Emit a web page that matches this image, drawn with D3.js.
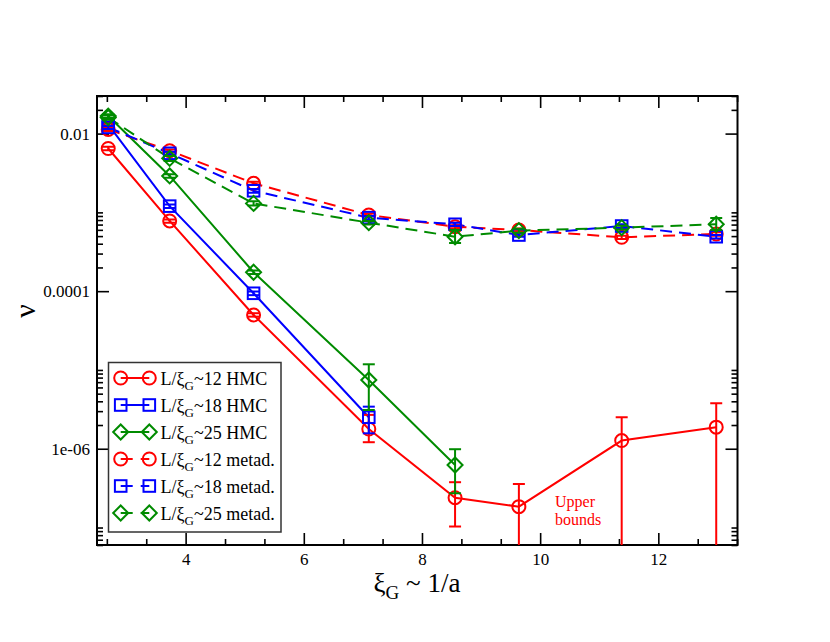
<!DOCTYPE html>
<html><head><meta charset="utf-8">
<script src="https://cdn.jsdelivr.net/npm/d3@7"></script>
<style>
body{margin:0;background:#fff;}
text{font-family:"Liberation Serif","Times New Roman",serif;}
</style>
</head><body>
<svg id="c" width="830" height="642"></svg>
<script>
// ---- data ----
const xiG = [2.69, 3.73, 5.15, 7.10, 8.56, 9.64, 11.38, 12.98];

const hmc12   = [6.47e-3, 7.78e-4, 4.99e-5, 1.78e-6, 2.39e-7, 1.84e-7, 1.27e-6, 1.88e-6];
const hmc12Lo = [6.15e-3, 7.4e-4, 4.75e-5, 1.21e-6, 1.03e-7, 0, 0, 0];
const hmc12Hi = [6.8e-3, 8.15e-4, 5.25e-5, 2.69e-6, 3.76e-7, 3.57e-7, 2.51e-6, 3.78e-6];

const hmc18   = [1.3e-2, 1.2e-3, 9.4e-5, 2.51e-6];
const hmc18Lo = [1.24e-2, 1.14e-3, 8.9e-5, 1.57e-6];
const hmc18Hi = [1.36e-2, 1.26e-3, 9.9e-5, 3.42e-6];

const hmc25   = [1.67e-2, 2.9e-3, 1.74e-4, 7.46e-6, 6.22e-7];
const hmc25Lo = [1.58e-2, 2.75e-3, 1.65e-4, 3.1e-6, 2.72e-7];
const hmc25Hi = [1.76e-2, 3.05e-3, 1.83e-4, 1.18e-5, 9.86e-7];

const met12   = [1.13e-2, 6.06e-3, 2.34e-3, 9.27e-4, 6.58e-4, 5.97e-4, 4.83e-4, 5.32e-4];
const met12Lo = [1.08e-2, 5.8e-3, 2.24e-3, 8.9e-4, 6.3e-4, 5.7e-4, 4.6e-4, 5.05e-4];
const met12Hi = [1.18e-2, 6.3e-3, 2.44e-3, 9.65e-4, 6.85e-4, 6.25e-4, 5.05e-4, 5.6e-4];

const met18   = [1.2e-2, 5.62e-3, 1.88e-3, 8.57e-4, 7.06e-4, 5.16e-4, 6.71e-4, 4.91e-4];
const met18Lo = [1.14e-2, 5.35e-3, 1.78e-3, 8.15e-4, 6.7e-4, 4.9e-4, 6.35e-4, 4.65e-4];
const met18Hi = [1.26e-2, 5.9e-3, 1.98e-3, 9.0e-4, 7.4e-4, 5.4e-4, 7.05e-4, 5.15e-4];

const met25   = [1.6e-2, 4.85e-3, 1.3e-3, 7.4e-4, 4.91e-4, 5.86e-4, 6.4e-4, 7.06e-4];
const met25Lo = [1.5e-2, 4.5e-3, 1.22e-3, 7.0e-4, 4.09e-4, 5.5e-4, 6.05e-4, 5.97e-4];
const met25Hi = [1.7e-2, 5.2e-3, 1.38e-3, 7.8e-4, 5.97e-4, 6.2e-4, 6.75e-4, 8.49e-4];

const legendLabels = ["~12 HMC", "~18 HMC", "~25 HMC", "~12 metad.", "~18 metad.", "~25 metad."];
const xTickValues = [4, 6, 8, 10, 12];
const yTickValues = [1e-2, 1e-4, 1e-6];
const yTickLabels = ["0.01", "0.0001", "1e-06"];

// ---- setup ----
const RED = "#ff0000", BLUE = "#0000ff", GREEN = "#008b00";
const svg = d3.select("#c");
const L = 97, R = 737.5, T = 96, B = 545;
const x = d3.scaleLinear().domain([2.5, 13.34]).range([L, R]);
const y = d3.scaleLog().domain([6e-8, 0.03]).range([B, T]);

svg.append("defs").append("clipPath").attr("id", "clip")
  .append("rect").attr("x", L).attr("y", T).attr("width", R - L).attr("height", B - T);

// minor tick positions
const xMinor = d3.range(8/3, 13.34, 2/3).filter(v => Math.abs(v/2 - Math.round(v/2)) > 0.01);
const yMinor = [];
[1e-8, 1e-6, 1e-4, 1e-2].forEach(m => { for (let k = 2; k <= 10; k++) { const v = m * k; if (v >= 6e-8 && v <= 0.0301) yMinor.push(v); } });

function styleAxis(g) {
  g.select(".domain").remove();
  g.selectAll("line").attr("stroke", "#000").attr("stroke-width", 1.6);
  g.selectAll("text").attr("fill", "#000").style("font-size", "17px")
   .style("font-family", '"Liberation Serif","Times New Roman",serif');
}

// axes (ticks inward)
svg.append("g").attr("transform", `translate(0,${B})`)
  .call(d3.axisBottom(x).tickValues(xTickValues).tickSize(-12).tickPadding(8).tickFormat(d3.format("d"))).call(styleAxis);
svg.append("g").attr("transform", `translate(0,${B})`)
  .call(d3.axisBottom(x).tickValues(xMinor).tickSize(-6).tickFormat("")).call(styleAxis);
svg.append("g").attr("transform", `translate(0,${T})`)
  .call(d3.axisTop(x).tickValues(xTickValues).tickSize(-12).tickFormat("")).call(styleAxis);
svg.append("g").attr("transform", `translate(0,${T})`)
  .call(d3.axisTop(x).tickValues(xMinor).tickSize(-6).tickFormat("")).call(styleAxis);

svg.append("g").attr("transform", `translate(${L},0)`)
  .call(d3.axisLeft(y).tickValues(yTickValues).tickSize(-12).tickPadding(7).tickFormat((d, i) => yTickLabels[i])).call(styleAxis);
svg.append("g").attr("transform", `translate(${L},0)`)
  .call(d3.axisLeft(y).tickValues(yMinor).tickSize(-6).tickFormat("")).call(styleAxis);
svg.append("g").attr("transform", `translate(${R},0)`)
  .call(d3.axisRight(y).tickValues(yTickValues).tickSize(-12).tickFormat("")).call(styleAxis);
svg.append("g").attr("transform", `translate(${R},0)`)
  .call(d3.axisRight(y).tickValues(yMinor).tickSize(-6).tickFormat("")).call(styleAxis);

// frame
svg.append("rect").attr("x", L).attr("y", T).attr("width", R - L).attr("height", B - T)
  .attr("fill", "none").attr("stroke", "#000").attr("stroke-width", 2);

// ---- series ----
const series = [
  {v: hmc12, lo: hmc12Lo, hi: hmc12Hi, c: RED, s: "circle", dash: null},
  {v: hmc18, lo: hmc18Lo, hi: hmc18Hi, c: BLUE, s: "square", dash: null},
  {v: hmc25, lo: hmc25Lo, hi: hmc25Hi, c: GREEN, s: "diamond", dash: null},
  {v: met12, lo: met12Lo, hi: met12Hi, c: RED, s: "circle", dash: "12,7"},
  {v: met18, lo: met18Lo, hi: met18Hi, c: BLUE, s: "square", dash: "12,7"},
  {v: met25, lo: met25Lo, hi: met25Hi, c: GREEN, s: "diamond", dash: "12,7"},
];

function drawSymbol(g, shape, cx, cy, color) {
  if (shape === "circle") {
    g.append("circle").attr("cx", cx).attr("cy", cy).attr("r", 6.5)
      .attr("fill", "none").attr("stroke", color).attr("stroke-width", 2);
  } else if (shape === "square") {
    g.append("rect").attr("x", cx - 5.8).attr("y", cy - 5.8).attr("width", 11.6).attr("height", 11.6)
      .attr("fill", "none").attr("stroke", color).attr("stroke-width", 2);
  } else {
    const d = 7.5;
    g.append("path").attr("d", `M${cx - d},${cy}L${cx},${cy - d}L${cx + d},${cy}L${cx},${cy + d}Z`)
      .attr("fill", "none").attr("stroke", color).attr("stroke-width", 2);
  }
}

const plot = svg.append("g").attr("clip-path", "url(#clip)");
const line = d3.line().x(d => x(d[0])).y(d => y(d[1]));

series.forEach(sr => {
  const pts = sr.v.map((v, i) => [xiG[i], v]);
  plot.append("path").attr("d", line(pts)).attr("fill", "none")
    .attr("stroke", sr.c).attr("stroke-width", 2)
    .attr("stroke-dasharray", sr.dash);
});

series.forEach(sr => {
  const g = plot.append("g");
  sr.v.forEach((v, i) => {
    drawSymbol(g, sr.s, x(xiG[i]), y(v), sr.c);
  });
  sr.v.forEach((v, i) => {
    const cx = x(xiG[i]);
    const yl = sr.lo[i] > 0 ? y(sr.lo[i]) : B + 5;
    const yh = y(sr.hi[i]);
    g.append("line").attr("x1", cx).attr("x2", cx).attr("y1", yl).attr("y2", yh)
      .attr("stroke", sr.c).attr("stroke-width", 2);
    g.append("line").attr("x1", cx - 6).attr("x2", cx + 6).attr("y1", yh).attr("y2", yh)
      .attr("stroke", sr.c).attr("stroke-width", 2);
    if (sr.lo[i] > 0) {
      g.append("line").attr("x1", cx - 6).attr("x2", cx + 6).attr("y1", yl).attr("y2", yl)
        .attr("stroke", sr.c).attr("stroke-width", 2);
    }
  });
});

// annotation
svg.append("text").attr("x", 555).attr("y", 507).attr("fill", RED).style("font-size", "16px").text("Upper");
svg.append("text").attr("x", 555).attr("y", 525).attr("fill", RED).style("font-size", "16px").text("bounds");

// ---- legend ----
const lg = svg.append("g");
lg.append("rect").attr("x", 108.5).attr("y", 362.5).attr("width", 172.5).attr("height", 169.5)
  .attr("fill", "#fff").attr("stroke", "#333").attr("stroke-width", 1.5);
series.forEach((sr, i) => {
  const yy = 378 + i * 27;
  lg.append("line").attr("x1", 120.7).attr("x2", 149.3).attr("y1", yy).attr("y2", yy)
    .attr("stroke", sr.c).attr("stroke-width", 2).attr("stroke-dasharray", sr.dash ? "12,8" : null);
  drawSymbol(lg, sr.s, 120.7, yy, sr.c);
  drawSymbol(lg, sr.s, 149.3, yy, sr.c);
  const t = lg.append("text").attr("x", 160.5).attr("y", yy + 6.5).attr("fill", "#000").style("font-size", "18px");
  t.append("tspan").text("L/ξ");
  t.append("tspan").attr("dy", 5).style("font-size", "13px").text("G");
  t.append("tspan").attr("dy", -5).text(legendLabels[i]);
});

// axis titles
const xt = svg.append("text").attr("x", 417).attr("y", 592).attr("text-anchor", "middle")
  .attr("fill", "#000").style("font-size", "27px");
xt.append("tspan").text("ξ");
xt.append("tspan").attr("dy", 7).style("font-size", "19px").text("G");
xt.append("tspan").attr("dy", -7).text(" ~ 1/a");

svg.append("text").attr("transform", "translate(35,311) rotate(-90)").attr("text-anchor", "middle")
  .attr("fill", "#000").style("font-size", "30px").text("ν");
</script>
</body></html>
